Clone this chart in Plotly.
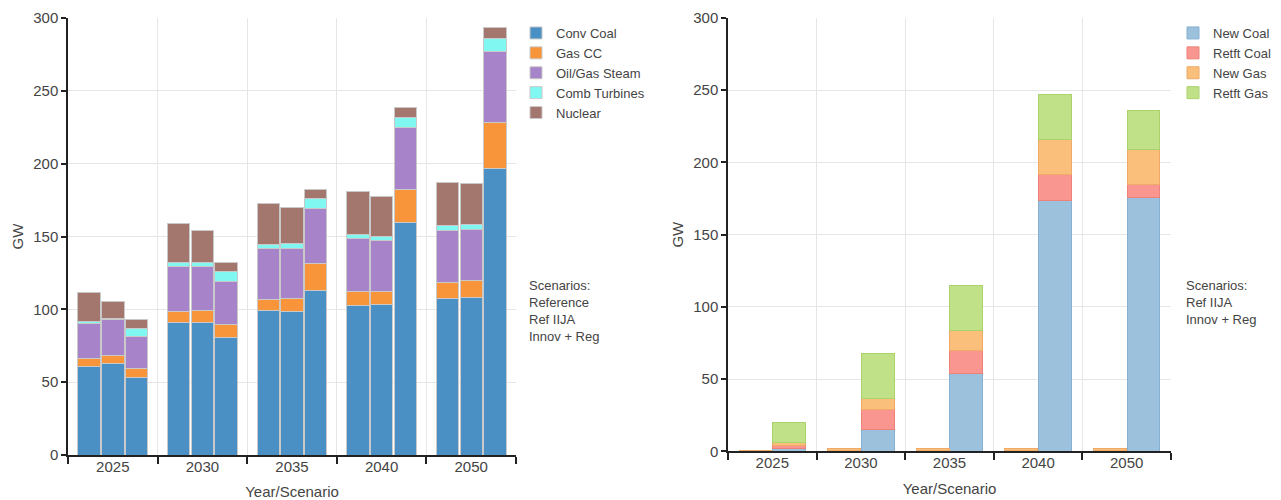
import plotly.graph_objects as go

# ---------------- data ----------------
years = ["2025", "2030", "2035", "2040", "2050"]

scen_left = ["Reference", "Ref IIJA", "Innov + Reg"]
scen_right = ["Ref IIJA", "Innov + Reg"]

# Left chart: existing capacity (GW), per year, per scenario [Reference, Ref IIJA, Innov + Reg]
conv_coal = [[61.0, 62.7, 53.0], [91.0, 90.7, 80.4], [99.1, 98.6, 113.0], [102.5, 103.0, 159.5], [107.1, 108.2, 196.4]]
gas_cc = [[5.0, 5.3, 6.7], [7.2, 8.2, 8.9], [7.5, 8.9, 18.7], [9.8, 9.3, 23.0], [11.1, 11.4, 31.7]]
oil_gas_steam = [[24.4, 24.8, 21.6], [31.5, 30.3, 30.1], [35.1, 34.5, 37.8], [36.2, 34.7, 42.4], [36.1, 35.4, 49.1]]
comb_turbines = [[1.2, 0.8, 5.3], [2.4, 2.7, 6.4], [2.5, 3.1, 6.6], [2.8, 3.2, 7.0], [3.1, 3.4, 9.0]]
nuclear = [[19.9, 11.9, 6.2], [26.5, 22.1, 6.1], [28.7, 25.1, 6.4], [29.4, 27.5, 6.7], [29.4, 28.0, 7.6]]

# Right chart: new / retrofit capacity (GW), per year, per scenario [Ref IIJA, Innov + Reg]
# (None = nothing built)
new_coal = [[None, 2.0], [0.3, 15.0], [0.3, 54.1], [0.3, 173.4], [0.3, 175.8]]
retft_coal = [[None, 1.7], [None, 13.6], [None, 15.9], [None, 18.4], [None, 9.2]]
new_gas = [[0.8, 2.7], [1.7, 8.3], [1.7, 13.6], [1.7, 24.0], [1.7, 23.7]]
retft_gas = [[None, 13.6], [None, 30.6], [None, 31.1], [None, 31.2], [None, 27.2]]

left_series = [
    ("Conv Coal", conv_coal, "#4a90c4"),
    ("Gas CC", gas_cc, "#f8953a"),
    ("Oil/Gas Steam", oil_gas_steam, "#a783c9"),
    ("Comb Turbines", comb_turbines, "#80f7f0"),
    ("Nuclear", nuclear, "#a3776e"),
]
right_series = [
    ("New Coal", new_coal, "#9bc1dc", "#86b1d3"),
    ("Retft Coal", retft_coal, "#f8968f", "#ee8279"),
    ("New Gas", new_gas, "#fbbf7c", "#eeaa66"),
    ("Retft Gas", retft_gas, "#c1e188", "#acd26e"),
]

# ---------------- figure ----------------
fig = go.Figure()

FONT = "Liberation Sans, Arial, sans-serif"
TXT = "#444444"

lw, lstep = 0.25, 0.264
for name, vals, col in left_series:
    xs, ys, cd = [], [], []
    for i, y in enumerate(years):
        for j, s in enumerate(scen_left):
            xs.append(i + (j - 1) * lstep)
            ys.append(vals[i][j])
            cd.append([y, s])
    fig.add_trace(go.Bar(
        x=xs, y=ys, width=lw, name=name, customdata=cd,
        marker=dict(color=col, line=dict(color="#c9c9c9", width=1)),
        xaxis="x", yaxis="y", legend="legend",
        hovertemplate="%{customdata[0]} %{customdata[1]}<br>" + name + ": %{y} GW<extra></extra>",
    ))

rw, rstep = 0.37, 0.38
for name, vals, col, lcol in right_series:
    xs, ys, cd = [], [], []
    for i, y in enumerate(years):
        for j, s in enumerate(scen_right):
            xs.append(i + (j - 0.5) * rstep)
            ys.append(vals[i][j])
            cd.append([y, s])
    fig.add_trace(go.Bar(
        x=xs, y=ys, width=rw, name=name, customdata=cd,
        marker=dict(color=col, line=dict(color=lcol, width=1)),
        xaxis="x2", yaxis="y2", legend="legend2",
        hovertemplate="%{customdata[0]} %{customdata[1]}<br>" + name + ": %{y} GW<extra></extra>",
    ))

# page body has an 8px default margin: work in window pixels
OFF = 8
W, H = 1281 - OFF, 500 - OFF
ML, MR, MT, MB = 68 - OFF, 1281 - 1171, 18 - OFF, 500 - 455
PW = W - ML - MR
PH = H - MT - MB

def px_x(p):
    return (p - OFF - ML) / PW

def px_y(p):
    return (H - MB - (p - OFF)) / PH

bounds = [i - 0.5 for i in range(len(years) + 1)]

def xaxis_cfg(domain, anchor):
    return dict(
        domain=domain, anchor=anchor, range=[-0.5, len(years) - 0.5],
        tickmode="array", tickvals=list(range(len(years))), ticktext=years,
        ticks="", showgrid=False, zeroline=False, automargin=False,
        showline=True, linecolor="#222222", linewidth=1.5,
        ticklabelstandoff=-3,
        tickfont=dict(size=15, color=TXT, family=FONT),
        title=dict(text="Year/Scenario", font=dict(size=15, color=TXT, family=FONT), standoff=13),
        minor=dict(tickmode="array", tickvals=bounds, ticks="outside", ticklen=7,
                   tickcolor="#222222", tickwidth=1.5,
                   showgrid=True, gridcolor="#e6e6e6", gridwidth=1),
        fixedrange=True,
    )

def yaxis_cfg(domain, anchor):
    return dict(
        domain=domain, anchor=anchor, range=[0, 300], dtick=50,
        showgrid=True, gridcolor="#e6e6e6", gridwidth=1, zeroline=False, automargin=False,
        showline=True, linecolor="#222222", linewidth=1.5,
        ticks="outside", ticklen=5, tickcolor="#222222", tickwidth=1.5,
        tickfont=dict(size=15, color=TXT, family=FONT),
        title=dict(text="GW", font=dict(size=15, color=TXT, family=FONT), standoff=6),
        fixedrange=True,
    )

fig.update_layout(
    width=W, height=H,
    margin=dict(l=ML, r=MR, t=MT, b=MB, autoexpand=False),
    paper_bgcolor="white", plot_bgcolor="white",
    barmode="stack",
    font=dict(family=FONT, color=TXT, size=13),
    xaxis=xaxis_cfg([px_x(68), px_x(516)], "y"),
    yaxis=yaxis_cfg([0, 1], "x"),
    xaxis2=xaxis_cfg([px_x(728), px_x(1171)], "y2"),
    yaxis2=yaxis_cfg([px_y(451.3), 1], "x2"),
    legend=dict(x=px_x(516), y=px_y(18), xanchor="left", yanchor="top",
                font=dict(size=13, color=TXT, family=FONT), traceorder="normal",
                bgcolor="rgba(0,0,0,0)", tracegroupgap=0, itemclick=False),
    legend2=dict(x=px_x(1173), y=px_y(18), xanchor="left", yanchor="top",
                 font=dict(size=13, color=TXT, family=FONT), traceorder="normal",
                 bgcolor="rgba(0,0,0,0)", tracegroupgap=0, itemclick=False),
    annotations=[
        dict(xref="paper", yref="paper", x=px_x(527), y=px_y(276),
             xanchor="left", yanchor="top", align="left", showarrow=False,
             text="Scenarios:<br>" + "<br>".join(scen_left),
             font=dict(size=13, color=TXT, family=FONT)),
        dict(xref="paper", yref="paper", x=px_x(1184), y=px_y(276),
             xanchor="left", yanchor="top", align="left", showarrow=False,
             text="Scenarios:<br>" + "<br>".join(scen_right),
             font=dict(size=13, color=TXT, family=FONT)),
    ],
    showlegend=True,
)

fig.write_html("out.html")
